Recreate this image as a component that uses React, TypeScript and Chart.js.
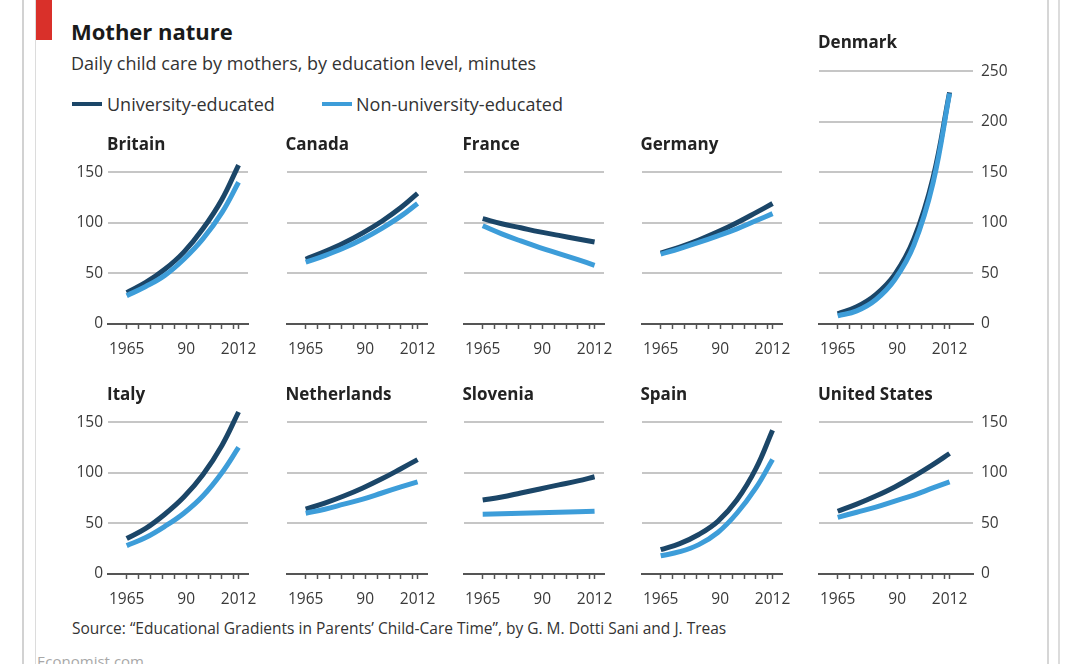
import React, { useEffect, useRef } from 'react';
import { Chart, registerables } from 'chart.js';

Chart.register(...registerables);

// ---------- data ----------
const YEARS = [1965, 1973, 1981, 1989, 1997, 2005, 2012];

const britainUni = [31, 41, 54, 71, 94, 123, 157];
const britainNon = [28, 37, 48, 64, 84, 110, 140];
const canadaUni = [64, 71.5, 80, 90, 101.5, 115, 129];
const canadaNon = [61, 67.5, 75, 84, 94.5, 106.5, 119];
const franceUni = [104, 99, 95, 91, 87.5, 84, 81];
const franceNon = [97, 89, 82, 75.5, 69.5, 63.5, 58];
const germanyUni = [70, 76, 83, 91, 100, 110, 119];
const germanyNon = [69, 74.5, 80.5, 87, 94, 102, 109];
const denmarkUni = [10, 17, 29, 49, 84, 144, 229];
const denmarkNon = [8, 13, 24, 44, 78, 139, 228];
const italyUni = [35, 45, 59, 76, 98, 127, 160];
const italyNon = [28, 36, 47, 60, 77, 100, 125];
const netherlandsUni = [64, 70, 77, 85, 94, 104, 113];
const netherlandsNon = [60, 64, 69, 74, 80, 86, 91];
const sloveniaUni = [73, 76, 80, 84, 88, 92, 96];
const sloveniaNon = [59, 59.4, 59.9, 60.4, 60.9, 61.4, 62];
const spainUni = [24, 30, 39, 52, 73, 104, 142];
const spainNon = [18, 22, 29, 41, 60, 85, 113];
const usUni = [62, 69, 77, 86, 96.5, 108, 119];
const usNon = [56, 61, 66, 72, 78, 85, 91];

const X_TICK_YEARS = [1965, 1970, 1975, 1980, 1985, 1990, 1995, 2000, 2005, 2010, 2012];
const X_LABEL_YEARS = [1965, 1990, 2012];
const X_LABEL_TEXT = ['1965', '90', '2012'];
const Y_TICKS = [0, 50, 100, 150];
const DENMARK_Y_TICKS = [0, 50, 100, 150, 200, 250];

const SERIES_NAMES = ['University-educated', 'Non-university-educated'];
const DARK = '#1b4668';
const LIGHT = '#3d9dd9';

type AxisSide = 'left' | 'right' | 'none';
interface PanelCfg {
  name: string;
  uni: number[];
  non: number[];
  row: number;
  col: number;
  axis: AxisSide;
  yMax: number;
  yTicks: number[];
}

const PANELS: PanelCfg[] = [
  { name: 'Britain', uni: britainUni, non: britainNon, row: 0, col: 0, axis: 'left', yMax: 160, yTicks: Y_TICKS },
  { name: 'Canada', uni: canadaUni, non: canadaNon, row: 0, col: 1, axis: 'none', yMax: 160, yTicks: Y_TICKS },
  { name: 'France', uni: franceUni, non: franceNon, row: 0, col: 2, axis: 'none', yMax: 160, yTicks: Y_TICKS },
  { name: 'Germany', uni: germanyUni, non: germanyNon, row: 0, col: 3, axis: 'none', yMax: 160, yTicks: Y_TICKS },
  { name: 'Denmark', uni: denmarkUni, non: denmarkNon, row: 0, col: 4, axis: 'right', yMax: 260, yTicks: DENMARK_Y_TICKS },
  { name: 'Italy', uni: italyUni, non: italyNon, row: 1, col: 0, axis: 'left', yMax: 160, yTicks: Y_TICKS },
  { name: 'Netherlands', uni: netherlandsUni, non: netherlandsNon, row: 1, col: 1, axis: 'none', yMax: 160, yTicks: Y_TICKS },
  { name: 'Slovenia', uni: sloveniaUni, non: sloveniaNon, row: 1, col: 2, axis: 'none', yMax: 160, yTicks: Y_TICKS },
  { name: 'Spain', uni: spainUni, non: spainNon, row: 1, col: 3, axis: 'none', yMax: 160, yTicks: Y_TICKS },
  { name: 'United States', uni: usUni, non: usNon, row: 1, col: 4, axis: 'right', yMax: 160, yTicks: Y_TICKS },
];

// ---------- layout ----------
const FONT = "'Open Sans', 'Noto Sans', sans-serif";
const COL_LEFT = [108, 286.5, 463.5, 641.5, 819];
const ROW_BOTTOM = [323.5, 573.5];
const PX_PER_UNIT = 1.012;
const PX_PER_YEAR = 2.38;
const X_MIN = 1957.14;
const PAD_TOP = 24;
const X_AXIS_H = 40;

Chart.defaults.font.family = FONT;

function Panel({ cfg }: { cfg: PanelCfg }) {
  const ref = useRef<HTMLCanvasElement | null>(null);
  const plotW = cfg.col === 4 ? 154 : 140;
  const plotH = Math.round(cfg.yMax * PX_PER_UNIT);
  const padL = cfg.axis === 'left' ? 44 : 20;
  const padR = cfg.axis === 'right' ? 50 : 22;
  const cw = Math.round(plotW + padL + padR);
  const ch = plotH + PAD_TOP + X_AXIS_H;
  const left = COL_LEFT[cfg.col] - padL;
  const top = ROW_BOTTOM[cfg.row] - plotH - PAD_TOP;
  const xMax = X_MIN + plotW / PX_PER_YEAR;

  useEffect(() => {
    if (!ref.current) return;
    const toPts = (vals: number[]) => YEARS.map((yr, i) => ({ x: yr, y: vals[i] }));
    const lineStyle = {
      borderWidth: 5,
      pointRadius: 0,
      tension: 0.4,
      borderCapStyle: 'butt',
      clip: false,
    };
    const chart = new Chart(ref.current, {
      type: 'line',
      data: {
        datasets: [
          { label: SERIES_NAMES[1], data: toPts(cfg.non), borderColor: LIGHT, order: 0, ...lineStyle },
          { label: SERIES_NAMES[0], data: toPts(cfg.uni), borderColor: DARK, order: 1, ...lineStyle },
        ],
      },
      options: {
        responsive: false,
        animation: false,
        events: [],
        layout: {
          padding: {
            top: PAD_TOP,
            bottom: 0,
            left: cfg.axis === 'left' ? 0 : padL,
            right: cfg.axis === 'right' ? 0 : padR,
          },
        },
        plugins: { legend: { display: false }, tooltip: { enabled: false } },
        scales: {
          x: {
            type: 'linear',
            min: X_MIN,
            max: xMax,
            afterBuildTicks: (s: any) => {
              s.ticks = X_TICK_YEARS.map((v) => ({ value: v }));
            },
            afterFit: (s: any) => {
              s.height = X_AXIS_H;
            },
            ticks: {
              autoSkip: false,
              maxRotation: 0,
              padding: 11,
              color: '#3a3a3a',
              font: { size: 15.5, family: FONT },
              callback: (v: any) => {
                const i = X_LABEL_YEARS.indexOf(Number(v));
                return i >= 0 ? X_LABEL_TEXT[i] : '';
              },
            },
            grid: {
              drawOnChartArea: false,
              drawTicks: true,
              tickLength: 5,
              tickColor: '#555',
              tickWidth: 1.5,
            },
            border: { display: true, color: '#555', width: 2 },
          },
          y: {
            position: cfg.axis === 'right' ? 'right' : 'left',
            min: 0,
            max: cfg.yMax,
            afterBuildTicks: (s: any) => {
              s.ticks = cfg.yTicks.map((v) => ({ value: v }));
            },
            afterFit: (s: any) => {
              s.width = cfg.axis === 'left' ? 44 : cfg.axis === 'right' ? 50 : 0;
            },
            ticks: {
              display: cfg.axis !== 'none',
              padding: cfg.axis === 'right' ? 8 : 5,
              color: '#3a3a3a',
              font: { size: 15.5, family: FONT },
            },
            grid: {
              drawTicks: false,
              lineWidth: 2,
              color: (ctx: any) => (ctx.tick && ctx.tick.value === 0 ? 'rgba(0,0,0,0)' : '#c6c6c6'),
            },
            border: { display: false },
          },
        },
      },
    } as any);
    return () => chart.destroy();
  }, []);

  return (
    <canvas
      ref={ref}
      width={cw}
      height={ch}
      style={{ position: 'absolute', left, top, width: cw, height: ch }}
    />
  );
}

function Text({
  x,
  baseline,
  size,
  bold,
  color,
  children,
}: {
  x: number;
  baseline: number;
  size: number;
  bold?: boolean;
  color?: string;
  children: React.ReactNode;
}) {
  return (
    <div
      style={{
        position: 'absolute',
        left: x,
        top: baseline - 0.888 * size,
        fontSize: size,
        lineHeight: `${size}px`,
        fontWeight: bold ? 700 : 400,
        color: color || '#222',
        whiteSpace: 'nowrap',
        fontFamily: FONT,
      }}
    >
      {children}
    </div>
  );
}

export default function App() {
  return (
    <div
      style={{
        position: 'absolute',
        left: 0,
        top: 0,
        width: 1080,
        height: 664,
        overflow: 'hidden',
        background: '#fff',
        fontFamily: FONT,
      }}
    >
      {/* frame */}
      <div style={{ position: 'absolute', left: 22, top: 0, width: 1.5, height: 664, background: '#d2d2d2' }} />
      <div style={{ position: 'absolute', left: 35, top: 0, width: 1, height: 664, background: '#dcdcdc' }} />
      <div style={{ position: 'absolute', left: 1047, top: 0, width: 1.5, height: 664, background: '#d6d6d6' }} />
      <div style={{ position: 'absolute', left: 1058, top: 0, width: 1.5, height: 664, background: '#dcdcdc' }} />
      <div style={{ position: 'absolute', left: 36, top: 0, width: 16, height: 40, background: '#d9302a' }} />

      <Text x={71} baseline={40} size={22} bold color="#1a1a1a">
        Mother nature
      </Text>
      <Text x={71} baseline={70} size={18} color="#333">
        Daily child care by mothers, by education level, minutes
      </Text>

      {/* legend */}
      <div style={{ position: 'absolute', left: 72, top: 101.5, width: 30, height: 4, background: DARK }} />
      <Text x={107} baseline={111} size={18} color="#333">
        {SERIES_NAMES[0]}
      </Text>
      <div style={{ position: 'absolute', left: 322, top: 101.5, width: 30, height: 4, background: LIGHT }} />
      <Text x={356} baseline={111} size={18} color="#333">
        {SERIES_NAMES[1]}
      </Text>

      {PANELS.map((p) => (
        <Panel key={p.name} cfg={p} />
      ))}

      {PANELS.map((p) => (
        <Text
          key={'t' + p.name}
          x={COL_LEFT[p.col] - 1}
          baseline={p.name === 'Denmark' ? 48 : p.row === 0 ? 150 : 400}
          size={17}
          bold
          color="#222"
        >
          {p.name}
        </Text>
      ))}

      <Text x={72} baseline={635} size={15.5} color="#333">
        Source: “Educational Gradients in Parents’ Child-Care Time”, by G. M. Dotti Sani and J. Treas
      </Text>
      <Text x={37} baseline={667} size={15} color="#a8a8a8">
        Economist.com
      </Text>
    </div>
  );
}
